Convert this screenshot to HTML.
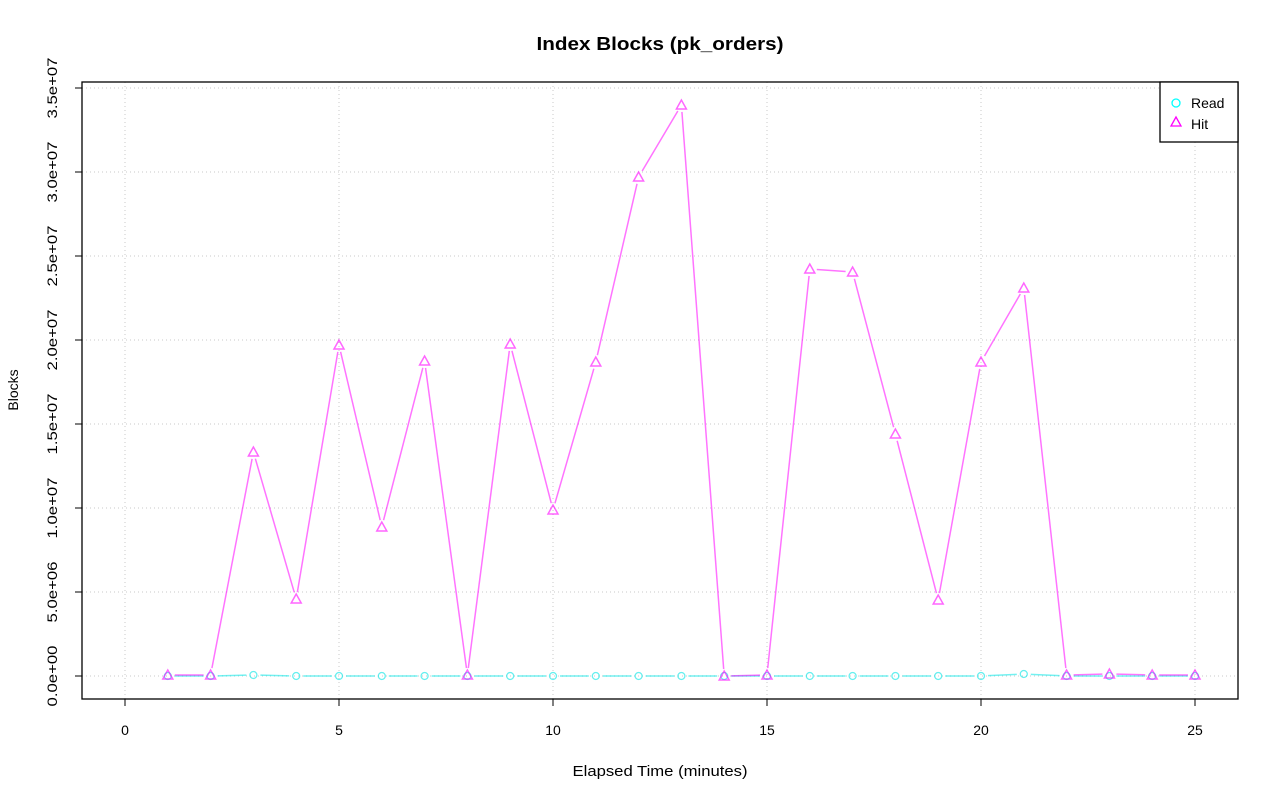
<!DOCTYPE html>
<html><head><meta charset="utf-8"><style>body{margin:0;background:#fff}svg{display:block}text{font-family:"Liberation Sans",sans-serif;fill:#000}</style></head>
<body>
<svg id="s" width="1280" height="801" xmlns="http://www.w3.org/2000/svg">
<rect width="1280" height="801" fill="#fff"/>
<g id="grid" stroke="#c8c8c8" stroke-width="1" stroke-dasharray="1,3"></g>
<g id="ser"></g>
<rect x="82" y="82" width="1156" height="617" fill="none" stroke="#000" stroke-width="1.3"/>
<text x="660" y="50" font-size="18" font-weight="bold" text-anchor="middle" textLength="247" lengthAdjust="spacingAndGlyphs">Index Blocks (pk_orders)</text>
<text x="660" y="776" font-size="15" text-anchor="middle" textLength="175" lengthAdjust="spacingAndGlyphs">Elapsed Time (minutes)</text>
<text transform="translate(18,390) rotate(-90)" font-size="14" text-anchor="middle">Blocks</text>
<g font-size="14" text-anchor="middle">
<text x="125" y="735">0</text><text x="339" y="735">5</text><text x="553" y="735">10</text><text x="767" y="735">15</text><text x="981" y="735">20</text><text x="1195" y="735">25</text>
</g>
<g font-size="14" text-anchor="middle">
<text transform="translate(57,676) rotate(-90)" textLength="61" lengthAdjust="spacingAndGlyphs">0.0e+00</text>
<text transform="translate(57,592) rotate(-90)" textLength="61" lengthAdjust="spacingAndGlyphs">5.0e+06</text>
<text transform="translate(57,508) rotate(-90)" textLength="61" lengthAdjust="spacingAndGlyphs">1.0e+07</text>
<text transform="translate(57,424) rotate(-90)" textLength="61" lengthAdjust="spacingAndGlyphs">1.5e+07</text>
<text transform="translate(57,340) rotate(-90)" textLength="61" lengthAdjust="spacingAndGlyphs">2.0e+07</text>
<text transform="translate(57,256) rotate(-90)" textLength="61" lengthAdjust="spacingAndGlyphs">2.5e+07</text>
<text transform="translate(57,172) rotate(-90)" textLength="61" lengthAdjust="spacingAndGlyphs">3.0e+07</text>
<text transform="translate(57,88) rotate(-90)" textLength="61" lengthAdjust="spacingAndGlyphs">3.5e+07</text>
</g>
<g id="ticks" stroke="#000" stroke-width="1"></g>
<rect x="1160" y="82" width="78" height="60" fill="#fff" stroke="#000" stroke-width="1.3"/>
<circle cx="1176" cy="103" r="4" fill="none" stroke="#00ffff" stroke-width="1.3"/>
<polygon points="1176,117 1171,126 1181,126" fill="none" stroke="#ff00ff" stroke-width="1.3"/>
<text x="1191" y="108" font-size="14">Read</text>
<text x="1191" y="129" font-size="14">Hit</text>
</svg>
<script>
var ns="http://www.w3.org/2000/svg";
function el(p,t,a){var e=document.createElementNS(ns,t);for(var k in a)e.setAttribute(k,a[k]);document.getElementById(p).appendChild(e);return e;}
for(var i=0;i<=25;i+=5){var x=125+42.8*i;el("grid","line",{x1:x,x2:x,y1:82,y2:699});el("ticks","line",{x1:x,x2:x,y1:699,y2:706});}
for(var j=0;j<8;j++){var y=676-84*j;el("grid","line",{x1:82,x2:1238,y1:y,y2:y});el("ticks","line",{x1:82,x2:75,y1:y,y2:y});}
el("ticks","line",{x1:125,x2:1195,y1:699,y2:699});el("ticks","line",{x1:82,x2:82,y1:88,y2:676});
var hit=[675,675,452,599,345,527,361,675,344,510,362,177,105,676,675,269,272,434,600,362,288,675,674,675,675];
var rd=[676,676,675,676,676,676,676,676,676,676,676,676,676,676,676,676,676,676,676,676,674,676,676,676,676];
function series(v,c,tri){var p=[];for(var i=0;i<v.length;i++)p.push([125+42.8*(i+1),v[i]]);
for(var i=0;i<p.length-1;i++){var dx=p[i+1][0]-p[i][0],dy=p[i+1][1]-p[i][1],L=Math.hypot(dx,dy),g=7;if(L>2*g)el("ser","line",{x1:p[i][0]+dx*g/L,y1:p[i][1]+dy*g/L,x2:p[i+1][0]-dx*g/L,y2:p[i+1][1]-dy*g/L,stroke:c,"stroke-width":1.5,"stroke-opacity":0.55});}
p.forEach(function(q){if(tri)el("ser","polygon",{points:q[0]+","+(q[1]-5)+" "+(q[0]-5)+","+(q[1]+4)+" "+(q[0]+5)+","+(q[1]+4),fill:"none",stroke:c,"stroke-width":1.5,"stroke-opacity":0.6});else el("ser","circle",{cx:q[0],cy:q[1],r:3.5,fill:"none",stroke:c,"stroke-width":1.3,"stroke-opacity":0.6});});}
series(rd,"#00e5e5",false);series(hit,"#ff00ff",true);
</script>
</body></html>
